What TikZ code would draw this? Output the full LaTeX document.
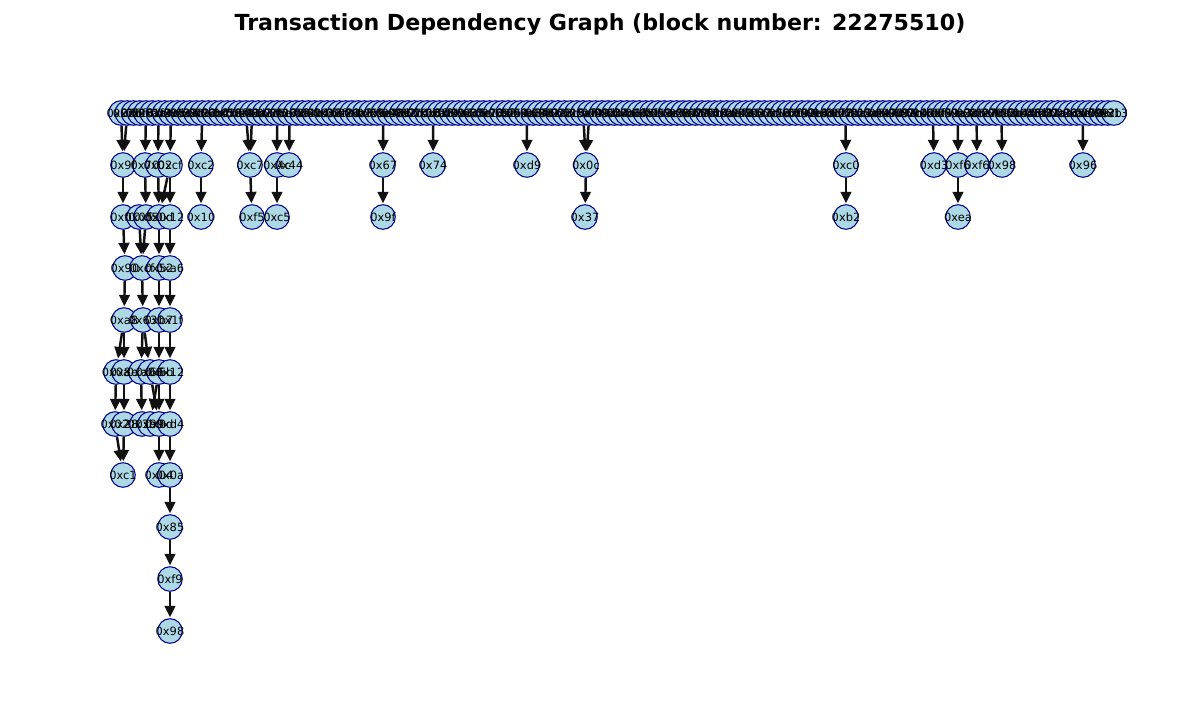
\documentclass[tikz,border=0pt]{standalone}
\usepackage{fontspec}
\setmainfont{DejaVu Sans}
\usetikzlibrary{arrows.meta,backgrounds}
\definecolor{txfill}{HTML}{ADD8E6}
\definecolor{txline}{HTML}{00008B}
\definecolor{depcol}{HTML}{111111}
\tikzset{
  tx/.style={circle, draw=txline, fill=txfill, line width=0.6pt, minimum size=14pt,
    inner sep=0pt},
  txlab/.style={inner sep=0pt, font=\fontsize{6.5}{7}\selectfont},
  dep/.style={draw=depcol, line width=1.4pt, shorten >=0.5pt,
    -{Triangle[length=6.5pt,width=6pt]}}
}
% nombre/x/y/etiqueta de los niveles inferiores
\def\lowtx{a1/123/165/9f,a2/145/165/70,a3/158/165/02,a4/170/165/cf,a5/201/165/c2,
  a6/250/165/c7,a7/277/165/4c,a8/289/165/44,a9/383/165/67,a10/433/165/74,
  a11/527/165/d9,a12/586/165/0c,a13/846/165/c0,a14/934/165/d3,a15/958/165/f6,
  a16/977/165/f6,a17/1002/165/98,a18/1083/165/96,
  b1/123/217/f0,b2/139/217/05,b3/146/217/f5,b4/159/217/0d,b5/170/217/12,
  b6/201/217/10,b7/252/217/f5,b8/277/217/c5,b9/383/217/9f,b10/585/217/37,
  b11/846/217/b2,b12/958/217/ea,
  c1/125/268/90,c2/142/268/cf,c3/159/268/52,c4/170/268/a6,
  d1/124/320/a8,d2/143/320/63,d3/159/320/b7,d4/170/320/1f,
  e1/116/372/0a,e2/124/372/8e,e3/141/372/a0,e4/150/372/66,e5/159/372/6b,e6/170/372/12,
  f1/115/424/02,f2/124/424/28,f3/142/424/3b,f4/150/424/99,f5/159/424/0d,f6/170/424/d4,
  g1/123/475/c1,g2/159/475/04,g3/170/475/0a,
  h1/170/527/85,h2/170/579/f9,h3/170/631/98}
\begin{document}
\begin{tikzpicture}[x=0.02cm, y=-0.02cm]
\useasboundingbox (0,0) rectangle (1200,700);
\node[font=\fontsize{12.6}{15}\selectfont\bfseries] (title) at (600,24)
  {Transaction Dependency Graph (block number: 22275510)};

% Fila superior de transacciones
\foreach \i in {0,...,159}
    \node[tx] (t\i) at (121+\i*6.245,113) {};
% Niveles inferiores
\foreach \n/\x/\y/\l in \lowtx
    \node[tx] (\n) at (\x,\y) {};

% Etiquetas encima de todos los círculos
\foreach \i in {0,...,158} {
    \pgfmathsetmacro\tlab{hex(mod(\i*73+29,240)+16)}
    \node[txlab] at (t\i) {0x\tlab};
}
\node[txlab] at (t159) {0x13};
\foreach \n/\x/\y/\l in \lowtx
    \node[txlab] at (\n) {0x\l};

% Dependencias
\begin{scope}[on background layer]
\foreach \i/\t in {0/a1,1/a1,4/a2,6/a3,8/a4,13/a5,20/a6,21/a6,25/a7,27/a8,42/a9,
    50/a10,65/a11,74/a12,75/a12,116/a13,130/a14,134/a15,137/a16,141/a17,154/a18}
    \draw[dep] (t\i) -- (\t);
\foreach \s/\t in {a1/b1,a2/b3,a3/b4,a4/b4,a4/b5,a5/b6,a6/b7,a7/b8,a9/b9,a12/b10,
    a13/b11,a15/b12,b1/c1,b2/c2,b3/c2,b4/c3,b5/c4,c1/d1,c2/d2,c3/d3,c4/d4,
    d1/e1,d1/e2,d2/e3,d2/e4,d3/e5,d4/e6,e1/f1,e2/f2,e3/f3,e4/f5,e5/f4,e5/f5,e6/f6,
    f1/g1,f2/g1,f5/g2,f6/g3,g3/h1,h1/h2,h2/h3}
    \draw[dep] (\s) -- (\t);
\end{scope}
\end{tikzpicture}
\end{document}
